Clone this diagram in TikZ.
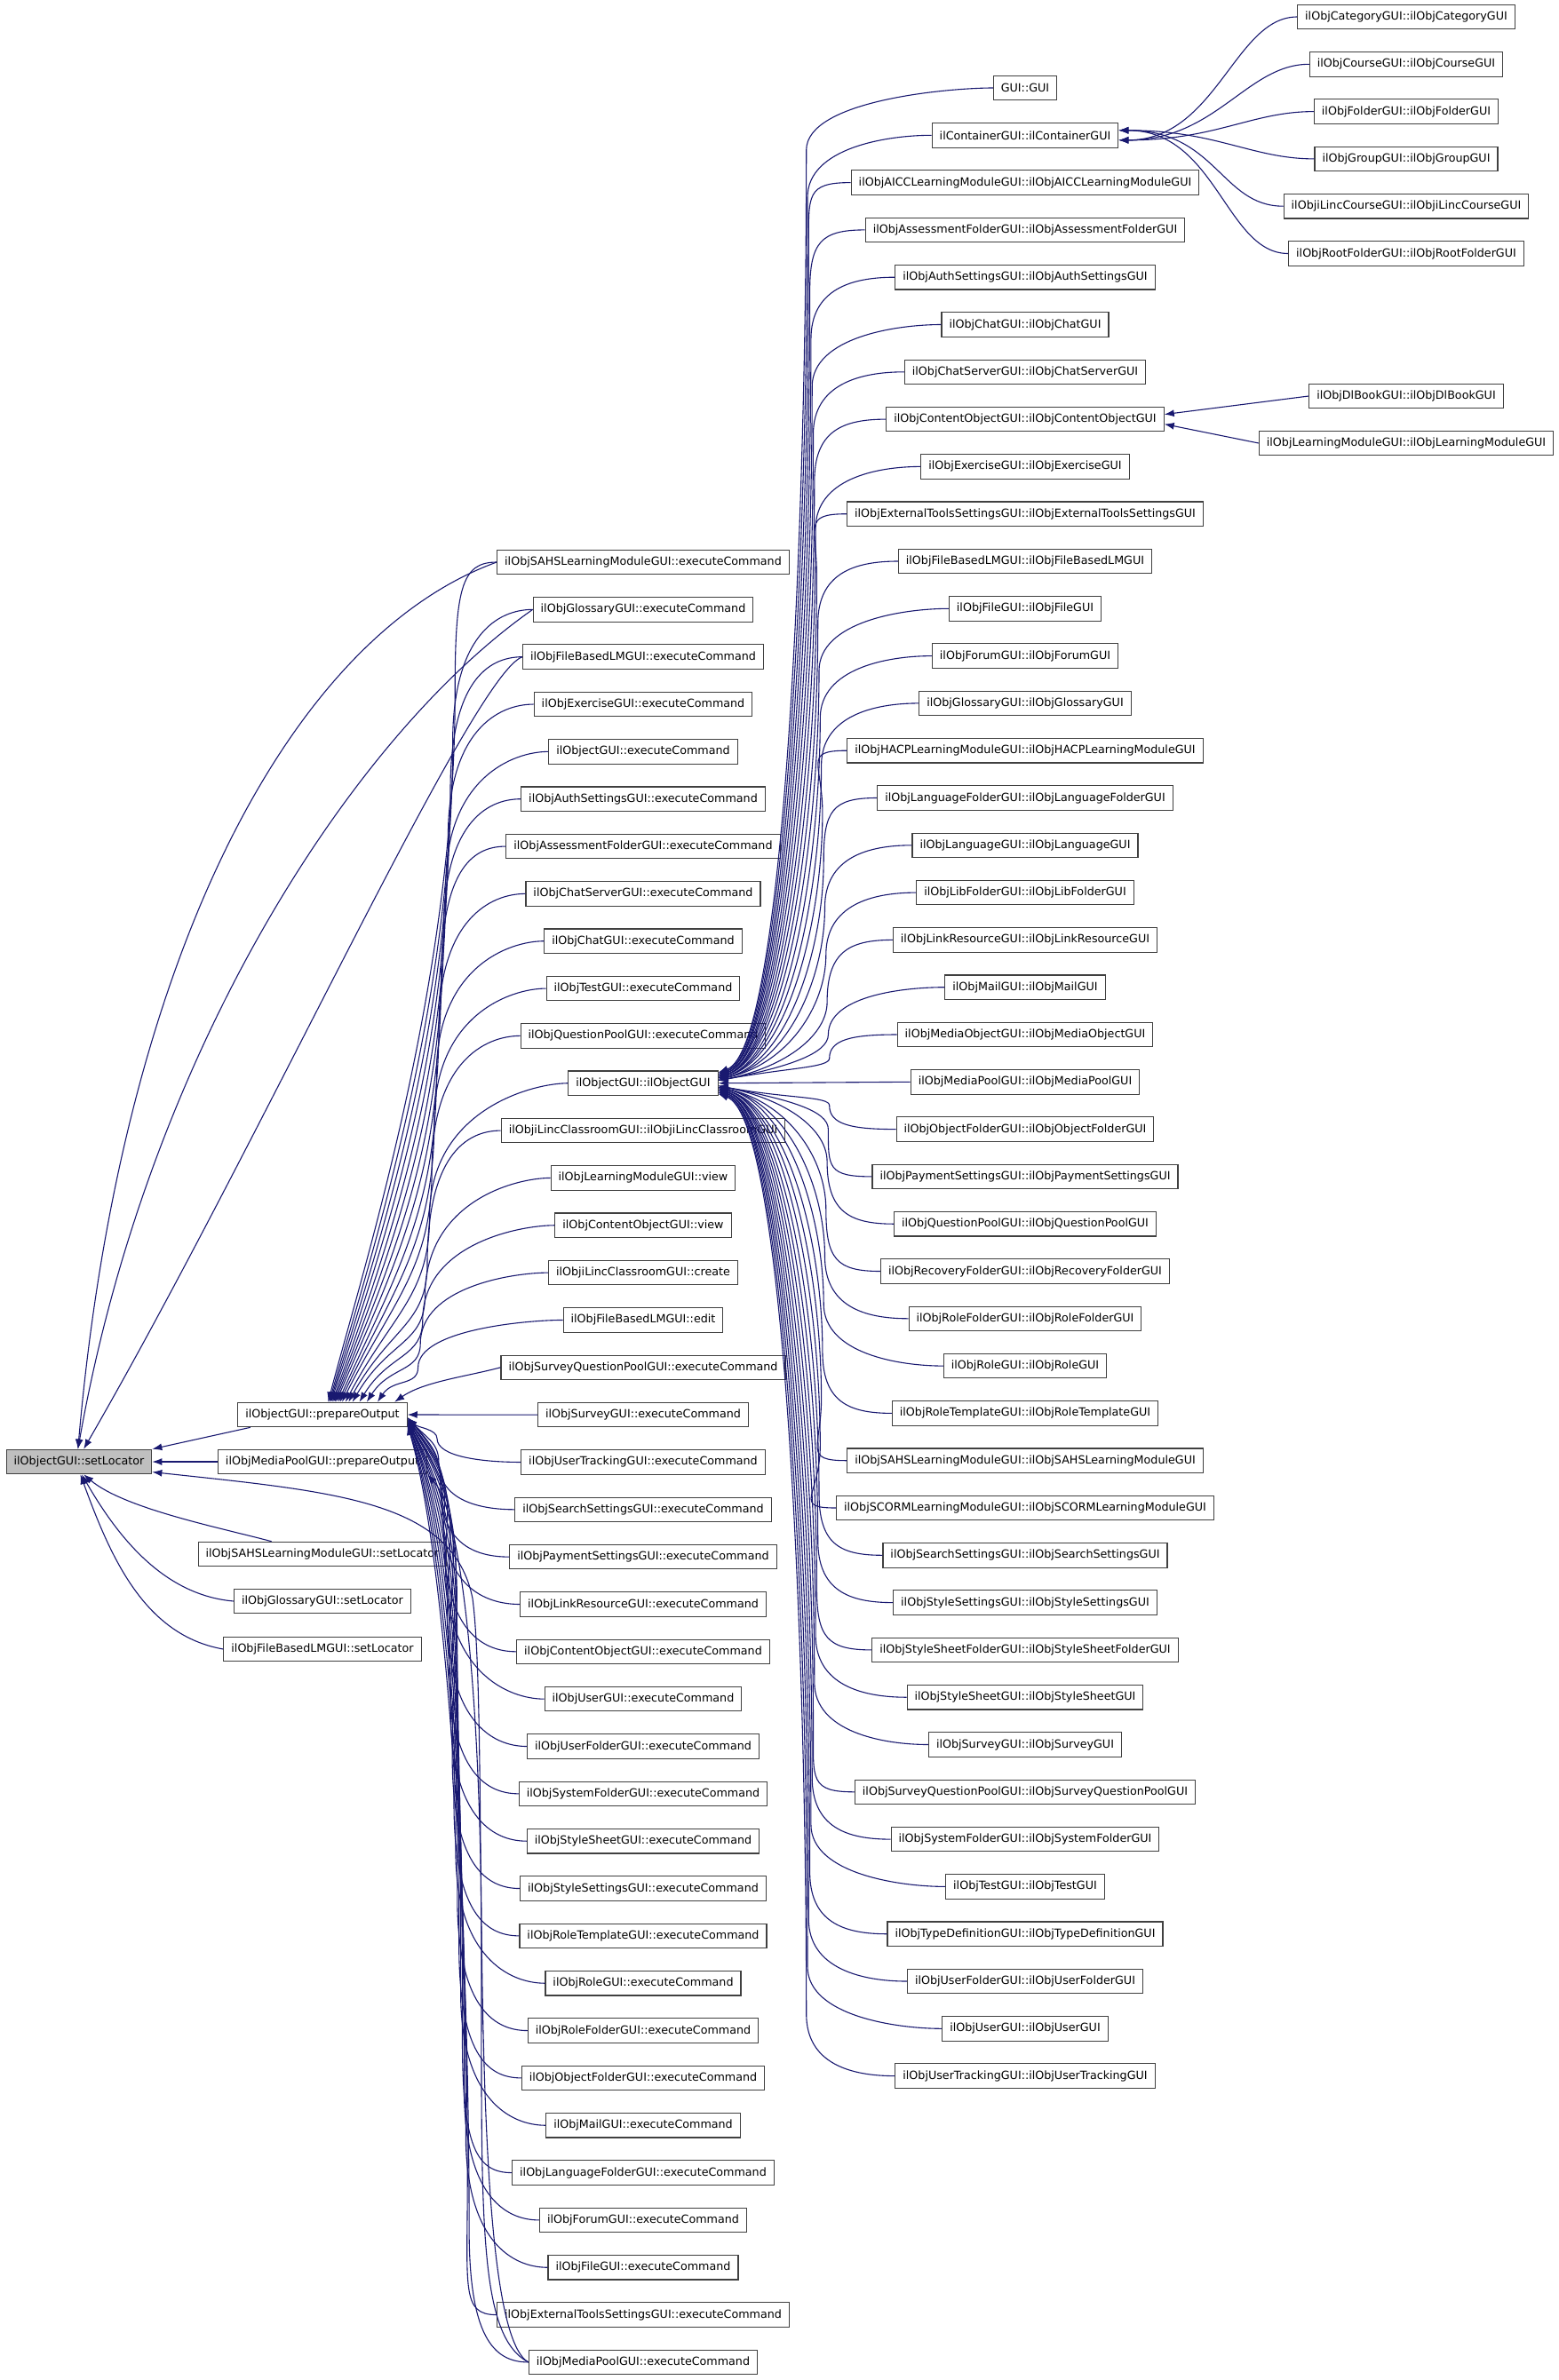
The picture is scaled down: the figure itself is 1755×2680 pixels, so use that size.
\documentclass[tikz,border=0pt]{standalone}
\usepackage{fontspec}
\setmainfont{DejaVu Sans}
\usetikzlibrary{arrows.meta}
\definecolor{midnight}{HTML}{191970}

\begin{document}
\begin{tikzpicture}[x=1pt, y=1pt,
	box/.style={draw=black!75, line width=1.1pt, inner xsep=8.5pt, inner ysep=0pt, minimum height=27.5pt, font=\fontsize{12.7}{15}\selectfont},
	edge/.style={<-, >={Latex[length=11pt,width=8pt]}, draw=midnight, line width=1.1pt}]
\useasboundingbox (0,0) rectangle (1755,-2680);

% callee and its direct callers
\node[box, fill=black!25] (sL) at (89,-1646) {ilObjectGUI::setLocator};
\node[box] (pO) at (363,-1593) {ilObjectGUI::prepareOutput};
\node[box] (mpO) at (363,-1646) {ilObjMediaPoolGUI::prepareOutput};
\node[box] (sS) at (363,-1750) {ilObjSAHSLearningModuleGUI::setLocator};
\node[box] (sG) at (363,-1803) {ilObjGlossaryGUI::setLocator};
\node[box] (sF) at (363,-1857) {ilObjFileBasedLMGUI::setLocator};

% third column
\foreach \i/\t in {1/ilObjSAHSLearningModuleGUI::executeCommand, 2/ilObjGlossaryGUI::executeCommand,
	3/ilObjFileBasedLMGUI::executeCommand, 4/ilObjExerciseGUI::executeCommand, 5/ilObjectGUI::executeCommand,
	6/ilObjAuthSettingsGUI::executeCommand, 7/ilObjAssessmentFolderGUI::executeCommand,
	8/ilObjChatServerGUI::executeCommand, 9/ilObjChatGUI::executeCommand, 10/ilObjTestGUI::executeCommand,
	11/ilObjQuestionPoolGUI::executeCommand, 12/ilObjectGUI::ilObjectGUI,
	13/ilObjiLincClassroomGUI::ilObjiLincClassroomGUI, 14/ilObjLearningModuleGUI::view,
	15/ilObjContentObjectGUI::view, 16/ilObjiLincClassroomGUI::create, 17/ilObjFileBasedLMGUI::edit,
	18/ilObjSurveyQuestionPoolGUI::executeCommand, 19/ilObjSurveyGUI::executeCommand,
	20/ilObjUserTrackingGUI::executeCommand, 21/ilObjSearchSettingsGUI::executeCommand,
	22/ilObjPaymentSettingsGUI::executeCommand, 23/ilObjLinkResourceGUI::executeCommand,
	24/ilObjContentObjectGUI::executeCommand, 25/ilObjUserGUI::executeCommand,
	26/ilObjUserFolderGUI::executeCommand, 27/ilObjSystemFolderGUI::executeCommand,
	28/ilObjStyleSheetGUI::executeCommand, 29/ilObjStyleSettingsGUI::executeCommand,
	30/ilObjRoleTemplateGUI::executeCommand, 31/ilObjRoleGUI::executeCommand,
	32/ilObjRoleFolderGUI::executeCommand, 33/ilObjObjectFolderGUI::executeCommand,
	34/ilObjMailGUI::executeCommand, 35/ilObjLanguageFolderGUI::executeCommand,
	36/ilObjForumGUI::executeCommand, 37/ilObjFileGUI::executeCommand,
	38/ilObjExternalToolsSettingsGUI::executeCommand, 39/ilObjMediaPoolGUI::executeCommand}
{
	\node[box] (c\i) at (724, {-633-53.34*(\i-1)}) {\t};
}

% constructors
\foreach \j/\t in {1/GUI::GUI, 2/ilContainerGUI::ilContainerGUI,
	3/ilObjAICCLearningModuleGUI::ilObjAICCLearningModuleGUI, 4/ilObjAssessmentFolderGUI::ilObjAssessmentFolderGUI,
	5/ilObjAuthSettingsGUI::ilObjAuthSettingsGUI, 6/ilObjChatGUI::ilObjChatGUI,
	7/ilObjChatServerGUI::ilObjChatServerGUI, 8/ilObjContentObjectGUI::ilObjContentObjectGUI,
	9/ilObjExerciseGUI::ilObjExerciseGUI, 10/ilObjExternalToolsSettingsGUI::ilObjExternalToolsSettingsGUI,
	11/ilObjFileBasedLMGUI::ilObjFileBasedLMGUI, 12/ilObjFileGUI::ilObjFileGUI,
	13/ilObjForumGUI::ilObjForumGUI, 14/ilObjGlossaryGUI::ilObjGlossaryGUI,
	15/ilObjHACPLearningModuleGUI::ilObjHACPLearningModuleGUI, 16/ilObjLanguageFolderGUI::ilObjLanguageFolderGUI,
	17/ilObjLanguageGUI::ilObjLanguageGUI, 18/ilObjLibFolderGUI::ilObjLibFolderGUI,
	19/ilObjLinkResourceGUI::ilObjLinkResourceGUI, 20/ilObjMailGUI::ilObjMailGUI,
	21/ilObjMediaObjectGUI::ilObjMediaObjectGUI, 22/ilObjMediaPoolGUI::ilObjMediaPoolGUI,
	23/ilObjObjectFolderGUI::ilObjObjectFolderGUI, 24/ilObjPaymentSettingsGUI::ilObjPaymentSettingsGUI,
	25/ilObjQuestionPoolGUI::ilObjQuestionPoolGUI, 26/ilObjRecoveryFolderGUI::ilObjRecoveryFolderGUI,
	27/ilObjRoleFolderGUI::ilObjRoleFolderGUI, 28/ilObjRoleGUI::ilObjRoleGUI,
	29/ilObjRoleTemplateGUI::ilObjRoleTemplateGUI, 30/ilObjSAHSLearningModuleGUI::ilObjSAHSLearningModuleGUI,
	31/ilObjSCORMLearningModuleGUI::ilObjSCORMLearningModuleGUI, 32/ilObjSearchSettingsGUI::ilObjSearchSettingsGUI,
	33/ilObjStyleSettingsGUI::ilObjStyleSettingsGUI, 34/ilObjStyleSheetFolderGUI::ilObjStyleSheetFolderGUI,
	35/ilObjStyleSheetGUI::ilObjStyleSheetGUI, 36/ilObjSurveyGUI::ilObjSurveyGUI,
	37/ilObjSurveyQuestionPoolGUI::ilObjSurveyQuestionPoolGUI, 38/ilObjSystemFolderGUI::ilObjSystemFolderGUI,
	39/ilObjTestGUI::ilObjTestGUI, 40/ilObjTypeDefinitionGUI::ilObjTypeDefinitionGUI,
	41/ilObjUserFolderGUI::ilObjUserFolderGUI, 42/ilObjUserGUI::ilObjUserGUI,
	43/ilObjUserTrackingGUI::ilObjUserTrackingGUI}
{
	\node[box] (d\j) at (1154, {-99-53.3*(\j-1)}) {\t};
}

% last column
\foreach \k/\t in {1/ilObjCategoryGUI::ilObjCategoryGUI, 2/ilObjCourseGUI::ilObjCourseGUI,
	3/ilObjFolderGUI::ilObjFolderGUI, 4/ilObjGroupGUI::ilObjGroupGUI,
	5/ilObjiLincCourseGUI::ilObjiLincCourseGUI, 6/ilObjRootFolderGUI::ilObjRootFolderGUI}
{
	\node[box] (e\k) at (1583, {-19-53.3*(\k-1)}) {\t};
}
\node[box] (e7) at (1583,-446) {ilObjDlBookGUI::ilObjDlBookGUI};
\node[box] (e8) at (1583,-499) {ilObjLearningModuleGUI::ilObjLearningModuleGUI};

% calls of setLocator
\draw[edge] (sL.north east) -- (pO.190);
\draw[edge] (sL.east) -- (mpO.west);
\draw[edge] (sL.-70) .. controls +(-40:60) and +(165:60) .. (sS.166);
\draw[edge] (sL.-78) .. controls +(-60:80) and +(175:80) .. (sG.west);
\draw[edge] (sL.-84) .. controls +(-70:100) and +(170:90) .. (sF.west);
\draw[edge] (sL.95) .. controls +(85:550) and +(200:250) .. (c1.west);
\draw[edge] (sL.95) .. controls +(80:450) and +(215:250) .. (c2.west);
\draw[edge] (sL.70) .. controls +(60:400) and +(200:60) .. (c3.west);
\draw[edge] (sL.-8) .. controls (380,-1680) and (510,-1690) .. (532,-1800)
	.. controls (552,-1950) and (522,-2620) .. (c39.west);
\draw[edge] (mpO.south east) .. controls (518,-1700) and (542,-1900) .. (542,-2200)
	.. controls (542,-2500) and (538,-2630) .. (c39.west);

% calls of prepareOutput
\foreach \i in {1,...,17}
{
	\pgfmathsetmacro{\dy}{(19-\i)*53.34}
	\pgfmathsetmacro{\ye}{-633-53.34*(\i-1)}
	\pgfmathsetmacro{\hk}{min(150,0.5*\dy)}
	\pgfmathsetmacro{\bx}{468+(18-\i)*2.6}
	\pgfmathsetmacro{\ang}{10+(18-\i)*3.3}
	\pgfmathsetmacro{\dir}{55+(18-\i)*1.2}
	\pgfmathsetmacro{\len}{min(0.3*\dy,150)}
	\pgfmathsetmacro{\yc}{\ye-\hk-0.4*(\dy-\hk)}
	\pgfmathsetmacro{\ym}{\ye-\hk}
	\pgfmathsetmacro{\yk}{\ye-0.2*\hk}
	\draw[edge] (pO.\ang) .. controls +(\dir:\len) and (\bx,\yc) .. (\bx,\ym)
		.. controls (\bx,\yk) and +(180:40) .. (c\i.west);
}
\draw[edge] (pO.10) .. controls +(35:40) and +(195:40) .. (c18.west);
\draw[edge] (pO.east) -- (c19.west);
\foreach \i in {20,...,39}
{
	\pgfmathsetmacro{\dy}{(\i-19)*53.34}
	\pgfmathsetmacro{\ye}{-633-53.34*(\i-1)}
	\pgfmathsetmacro{\hk}{min(150,0.5*\dy)}
	\pgfmathsetmacro{\bx}{492+(\i-20)*1.9}
	\pgfmathsetmacro{\ang}{-(2+(\i-20)*0.3)}
	\pgfmathsetmacro{\dir}{-(45+(\i-20)*1.5)}
	\pgfmathsetmacro{\len}{min(0.3*\dy,150)}
	\pgfmathsetmacro{\yc}{\ye+\hk+0.4*(\dy-\hk)}
	\pgfmathsetmacro{\ym}{\ye+\hk}
	\pgfmathsetmacro{\yk}{\ye+0.2*\hk}
	\draw[edge] (pO.\ang) .. controls +(\dir:\len) and (\bx,\yc) .. (\bx,\ym)
		.. controls (\bx,\yk) and +(180:40) .. (c\i.west);
}

% calls of the constructor
\foreach \j in {1,...,21}
{
	\pgfmathsetmacro{\dy}{(22-\j)*53.3}
	\pgfmathsetmacro{\ye}{-99-53.3*(\j-1)}
	\pgfmathsetmacro{\hk}{min(70,0.5*\dy)}
	\pgfmathsetmacro{\bx}{935-(22-\j)*1.3}
	\pgfmathsetmacro{\ang}{2+(22-\j)*0.3}
	\pgfmathsetmacro{\dir}{10+(22-\j)*0.5}
	\pgfmathsetmacro{\yc}{\ye-\hk-0.4*(\dy-\hk)}
	\pgfmathsetmacro{\ym}{\ye-\hk}
	\pgfmathsetmacro{\yk}{\ye-0.2*\hk}
	\draw[edge] (c12.\ang) .. controls +(\dir:80) and (\bx,\yc) .. (\bx,\ym)
		.. controls (\bx,\yk) and +(180:50) .. (d\j.west);
}
\draw[edge] (c12.east) -- (d22.west);
\foreach \j in {23,...,43}
{
	\pgfmathsetmacro{\dy}{(\j-22)*53.3}
	\pgfmathsetmacro{\ye}{-99-53.3*(\j-1)}
	\pgfmathsetmacro{\hk}{min(70,0.5*\dy)}
	\pgfmathsetmacro{\bx}{935-(\j-22)*1.3}
	\pgfmathsetmacro{\ang}{-(2+(\j-22)*0.3)}
	\pgfmathsetmacro{\dir}{-(10+(\j-22)*0.5)}
	\pgfmathsetmacro{\yc}{\ye+\hk+0.4*(\dy-\hk)}
	\pgfmathsetmacro{\ym}{\ye+\hk}
	\pgfmathsetmacro{\yk}{\ye+0.2*\hk}
	\draw[edge] (c12.\ang) .. controls +(\dir:80) and (\bx,\yc) .. (\bx,\ym)
		.. controls (\bx,\yk) and +(180:50) .. (d\j.west);
}

% subclasses
\foreach \k in {1,2,3}
{
	\draw[edge] (d2.-3) .. controls +(0:110) and +(180:70) .. (e\k.west);
}
\foreach \k in {4,5,6}
{
	\draw[edge] (d2.3) .. controls +(0:110) and +(180:70) .. (e\k.west);
}
\draw[edge] (d8.2) -- (e7.west);
\draw[edge] (d8.-2) -- (e8.west);
\end{tikzpicture}
\end{document}
